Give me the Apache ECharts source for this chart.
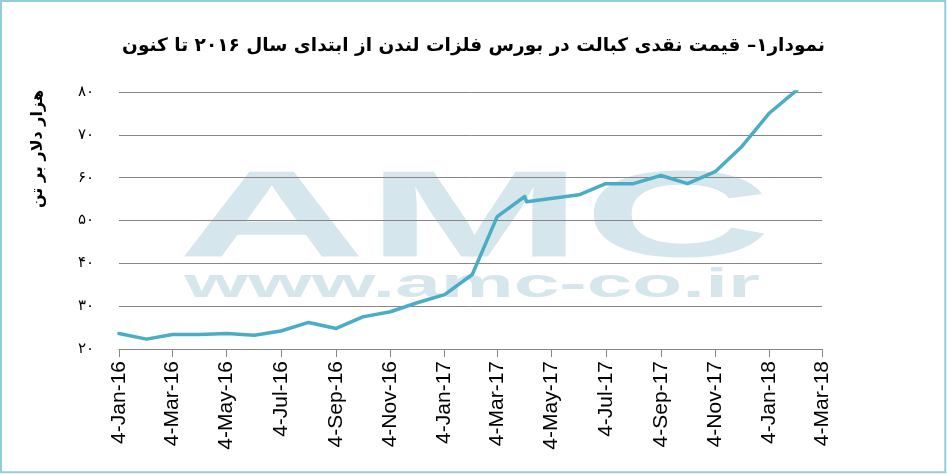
<!DOCTYPE html>
<html>
<head>
<meta charset="utf-8">
<script src="https://cdn.jsdelivr.net/npm/echarts@6/dist/echarts.min.js"></script>
<style>
  html, body { margin: 0; padding: 0; background: #fff; }
  #chart { width: 947px; height: 474px; }
</style>
</head>
<body>
<div id="chart"></div>
<script>
// ---- data ----
var titleText = 'نمودار۱– قیمت نقدی کبالت در بورس فلزات لندن از ابتدای سال ۲۰۱۶ تا کنون';
var yAxisName = 'هزار دلار بر تن';

var dates = [
  '2016-01-04','2016-02-04','2016-03-04','2016-04-04','2016-05-04','2016-06-04',
  '2016-07-04','2016-08-04','2016-09-04','2016-10-04','2016-11-04','2016-12-04',
  '2017-01-04','2017-02-04','2017-03-04','2017-04-04','2017-04-06','2017-06-04',
  '2017-07-04','2017-08-04','2017-09-04','2017-10-04','2017-11-04','2017-12-04',
  '2018-01-04','2018-02-04'
];
var prices = [
  23.6, 22.3, 23.4, 23.4, 23.6, 23.2,
  24.2, 26.2, 24.8, 27.5, 28.7, 30.8,
  32.7, 37.4, 50.9, 55.6, 54.4, 56.0,
  58.6, 58.6, 60.5, 58.6, 61.4, 67.3,
  75.1, 80.5
];

var xTickDates = [
  '2016-01-04','2016-03-04','2016-05-04','2016-07-04','2016-09-04','2016-11-04',
  '2017-01-04','2017-03-04','2017-05-04','2017-07-04','2017-09-04','2017-11-04',
  '2018-01-04','2018-03-04'
];
var yTickValues = [20, 30, 40, 50, 60, 70, 80];
var yTickLabels = ['۲۰', '۳۰', '۴۰', '۵۰', '۶۰', '۷۰', '۸۰'];

var watermarkBig = 'AMC';
var watermarkSmall = 'www.amc-co.ir';

// ---- helpers ----
var DAY = 86400000;
var origin = Date.UTC(2016, 0, 4);
function dayNum(s) {
  var p = s.split('-');
  return Math.round((Date.UTC(+p[0], +p[1] - 1, +p[2]) - origin) / DAY);
}
var monthNames = ['Jan','Feb','Mar','Apr','May','Jun','Jul','Aug','Sep','Oct','Nov','Dec'];
function fmtDay(v) {
  var d = new Date(origin + Math.round(v) * DAY);
  var yy = String(d.getUTCFullYear() % 100);
  if (yy.length < 2) yy = '0' + yy;
  return d.getUTCDate() + '-' + monthNames[d.getUTCMonth()] + '-' + yy;
}

var xTicks = xTickDates.map(dayNum);
var seriesData = dates.map(function (d, i) { return [dayNum(d), prices[i]]; });

var chart = echarts.init(document.getElementById('chart'), null, { renderer: 'canvas' });

var option = {
  animation: false,
  backgroundColor: '#ffffff',
  title: {
    text: titleText,
    left: 'center',
    top: 32,
    textStyle: {
      fontFamily: 'DejaVu Sans',
      fontWeight: 'bold',
      fontSize: 18.5,
      color: '#000'
    }
  },
  grid: { left: 119, right: 125, top: 92, bottom: 125, containLabel: false },
  xAxis: {
    type: 'value',
    min: xTicks[0],
    max: xTicks[xTicks.length - 1],
    axisLine: { show: true, onZero: false, lineStyle: { color: '#868686', width: 1 } },
    axisTick: { show: true, customValues: xTicks, length: 8, lineStyle: { color: '#868686', width: 1 } },
    axisLabel: {
      customValues: xTicks,
      rotate: 90,
      margin: 12,
      formatter: function (v) { return fmtDay(v); },
      fontFamily: 'Liberation Sans',
      fontSize: 21,
      color: '#000'
    },
    splitLine: { show: false }
  },
  yAxis: {
    type: 'value',
    min: 20,
    max: 80,
    interval: 10,
    axisLine: { show: false },
    axisTick: { show: false },
    axisLabel: {
      margin: 25,
      formatter: function (v) {
        var i = yTickValues.indexOf(v);
        return i >= 0 ? yTickLabels[i] : '';
      },
      fontFamily: 'DejaVu Sans',
      fontSize: 15,
      color: '#000'
    },
    splitLine: { show: true, lineStyle: { color: '#868686', width: 1 } }
  },
  series: [{
    type: 'line',
    data: seriesData,
    showSymbol: false,
    symbol: 'none',
    lineStyle: { color: '#4bacc6', width: 3.5, join: 'round', cap: 'round' },
    itemStyle: { color: '#4bacc6' },
    z: 5
  }],
  graphic: [
    {
      type: 'rect',
      z: 100,
      silent: true,
      shape: { x: 1, y: 1, width: 944.3, height: 471.3 },
      style: { fill: 'none', stroke: '#93cddd', lineWidth: 2 }
    },
    {
      type: 'text',
      z: -10,
      silent: true,
      x: 474.5,
      y: 222.5,
      scaleX: 2.12,
      style: {
        text: watermarkBig,
        font: 'bold 123px "Liberation Sans"',
        fill: '#d5e6ec',
        textAlign: 'center',
        textVerticalAlign: 'middle'
      }
    },
    {
      type: 'text',
      z: -10,
      silent: true,
      x: 472,
      y: 286,
      scaleX: 2.0,
      style: {
        text: watermarkSmall,
        font: 'bold 41px "Liberation Sans"',
        fill: '#d5e6ec',
        textAlign: 'center',
        textVerticalAlign: 'middle'
      }
    },
    {
      type: 'text',
      silent: true,
      x: 38,
      y: 149,
      rotation: Math.PI / 2,
      style: {
        text: yAxisName,
        font: 'bold 16px "DejaVu Sans"',
        fill: '#000',
        textAlign: 'center',
        textVerticalAlign: 'middle'
      }
    }
  ]
};

chart.setOption(option);
</script>
</body>
</html>
